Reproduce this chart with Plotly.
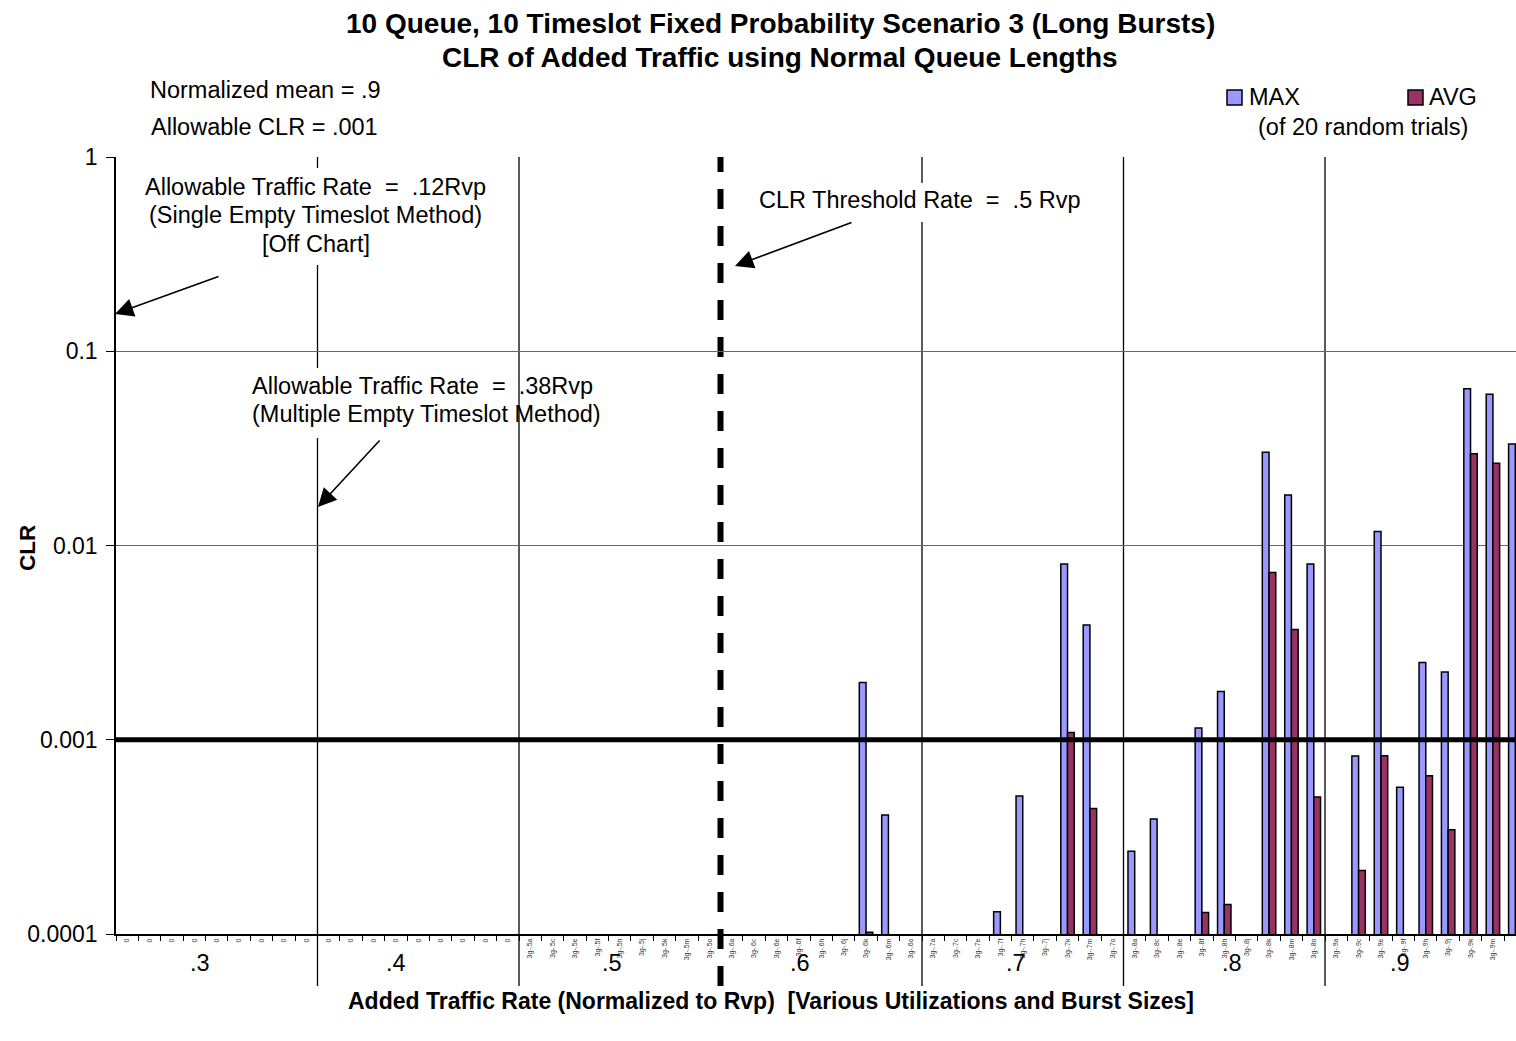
import plotly.graph_objects as go

# ---------------------------------------------------------------- data
group_labels = [".3", ".4", ".5", ".6", ".7", ".8", ".9"]

category_labels = [
    "0", "0", "0", "0", "0", "0", "0", "0", "0",
    "0", "0", "0", "0", "0", "0", "0", "0", "0",
    "3g-.5a", "3g-.5c", "3g-.5e", "3g-.5f", "3g-.5h", "3g-.5j", "3g-.5k", "3g-.5m", "3g-.5o",
    "3g-.6a", "3g-.6c", "3g-.6e", "3g-.6f", "3g-.6h", "3g-.6j", "3g-.6k", "3g-.6m", "3g-.6o",
    "3g-.7a", "3g-.7c", "3g-.7e", "3g-.7f", "3g-.7h", "3g-.7j", "3g-.7k", "3g-.7m", "3g-.7o",
    "3g-.8a", "3g-.8c", "3g-.8e", "3g-.8f", "3g-.8h", "3g-.8j", "3g-.8k", "3g-.8m", "3g-.8o",
    "3g-.9a", "3g-.9c", "3g-.9e", "3g-.9f", "3g-.9h", "3g-.9j", "3g-.9k", "3g-.9m", "3g-.9o",
]

N = None
max_clr = [
    N, N, N, N, N, N, N, N, N,
    N, N, N, N, N, N, N, N, N,
    N, N, N, N, N, N, N, N, N,
    N, N, N, N, N, N, 0.00197, 0.00041, N,
    N, N, N, 0.00013, 0.000513, N, 0.00803, 0.0039, N,
    0.000267, 0.000391, N, 0.00115, 0.00177, N, 0.0302, 0.0182, 0.00803,
    N, 0.000824, 0.0118, 0.000569, 0.0025, 0.00223, 0.0642, 0.0601, 0.0333,
]
avg_clr = [
    N, N, N, N, N, N, N, N, N,
    N, N, N, N, N, N, N, N, N,
    N, N, N, N, N, N, N, N, N,
    N, N, N, N, N, N, 0.000102, N, N,
    N, N, N, N, N, N, 0.00109, 0.000443, N,
    N, N, N, 0.000129, 0.000142, N, 0.00726, 0.00369, 0.000507,
    N, 0.000212, 0.000828, N, 0.000652, 0.000344, 0.0297, 0.0265, N,
]

allowable_clr = 0.001
group_size = 9
threshold_group = 3          # the .5 Rvp threshold sits before the .6 group

# ---------------------------------------------------------------- layout helpers
W, H = 1516, 1041
L, R, T, B = 116, 0, 157, 107
FONT = "Liberation Sans, Arial, sans-serif"


def px(x):
    return (x - L) / (W - L - R)


def py(y):
    return (H - B - y) / (H - T - B)


x = list(range(len(category_labels)))
cat_w = 22.389                       # pixel width of one category
x_end = -0.5 + (W - L - R) / cat_w

fig = go.Figure()
fig.add_trace(go.Bar(
    x=x, y=max_clr, name="MAX",
    marker=dict(color="#9999FF", line=dict(color="black", width=1.5)),
))
fig.add_trace(go.Bar(
    x=x, y=avg_clr, name="AVG",
    marker=dict(color="#993366", line=dict(color="black", width=1.5)),
))
# allowable CLR reference line
fig.add_trace(go.Scatter(
    x=[-1, len(x)], y=[allowable_clr, allowable_clr], mode="lines",
    line=dict(color="black", width=5), hoverinfo="skip",
))

shapes = []
# group separators (extend down through the category labels)
for g in range(1, len(group_labels)):
    xb = g * group_size - 0.5
    dashed = g == threshold_group
    shapes.append(dict(
        type="line", xref="x", yref="paper", x0=xb, x1=xb,
        y0=py(986), y1=1, layer="below",
        line=dict(color="black", width=6 if dashed else 1.3,
                  dash="20px,17px" if dashed else "solid"),
    ))

# opaque text boxes
for (x0, y0, x1, y1) in [(140, 168, 490, 265), (245, 368, 505, 438), (752, 183, 1088, 222)]:
    shapes.append(dict(
        type="rect", xref="paper", yref="paper",
        x0=px(x0), x1=px(x1), y0=py(y1), y1=py(y0),
        fillcolor="white", line=dict(width=0), layer="above",
    ))

# legend swatches
for (x0, col) in [(1227, "#9999FF"), (1408, "#993366")]:
    shapes.append(dict(
        type="rect", xref="paper", yref="paper",
        x0=px(x0), x1=px(x0 + 15), y0=py(105), y1=py(90),
        fillcolor=col, line=dict(color="black", width=1.5), layer="above",
    ))

ann = []


def text(x, y, s, size=23, bold=False, xanchor="center", angle=0):
    ann.append(dict(
        xref="paper", yref="paper", x=px(x), y=py(y), text=f"<b>{s}</b>" if bold else s,
        showarrow=False, xanchor=xanchor, yanchor="middle", textangle=angle,
        font=dict(family=FONT, size=size, color="black"),
    ))


def arrow(hx, hy, tx, ty):
    ann.append(dict(
        xref="paper", yref="paper", x=px(hx), y=py(hy), ax=tx - hx, ay=ty - hy,
        axref="pixel", ayref="pixel", text="", showarrow=True,
        arrowhead=2, arrowsize=2.3, arrowwidth=1.6, arrowcolor="black",
    ))


text(780, 23, "10 Queue, 10 Timeslot Fixed Probability Scenario 3 (Long Bursts)", 28, True)
text(780, 57, "CLR of Added Traffic using Normal Queue Lengths", 28, True)
text(265, 90, "Normalized mean = .9", 23.5)
text(264, 127, "Allowable CLR = .001", 23.5)

text(315, 187, "Allowable Traffic Rate  =  .12Rvp", 23.5)
text(315, 215, "(Single Empty Timeslot Method)", 23.5)
text(316, 244, "[Off Chart]", 23.5)
arrow(115, 314, 220, 276)

text(250, 386, "Allowable Traffic Rate  =  .38Rvp", 23.5, xanchor="left")
text(250, 414, "(Multiple Empty Timeslot Method)", 23.5, xanchor="left")
arrow(318, 507, 381, 439)

text(920, 200, "CLR Threshold Rate  =  .5 Rvp", 23.5)
arrow(735, 266, 853, 222)

text(1247, 97, "MAX", 23.5, xanchor="left")
text(1427, 97, "AVG", 23.5, xanchor="left")
text(1363, 127, "(of 20 random trials)", 23.5)

text(27, 548, "CLR", 22.5, True, angle=-90)
text(771, 1001, "Added Traffic Rate (Normalized to Rvp)  [Various Utilizations and Burst Sizes]", 23, True)

for lab, gx in zip(group_labels, [200, 396, 612, 800, 1016, 1232, 1400]):
    text(gx, 963, lab, 23.5)

fig.update_layout(
    width=W, height=H,
    margin=dict(l=L, r=R, t=T, b=B, autoexpand=False),
    paper_bgcolor="white", plot_bgcolor="white",
    barmode="group", bargap=0.4, bargroupgap=0,
    showlegend=False,
    font=dict(family=FONT, color="black"),
    shapes=shapes, annotations=ann,
    xaxis=dict(
        range=[-0.5, x_end], tickmode="array", tickvals=x, ticktext=category_labels,
        tickangle=-90, tickfont=dict(family=FONT, size=7, color="#333333"),
        ticks="", showgrid=False, zeroline=False,
        showline=True, linecolor="black", linewidth=1.5,
        minor=dict(tick0=-0.5, dtick=1, ticks="outside", ticklen=5,
                   tickwidth=1, tickcolor="black", showgrid=False),
        automargin=False, fixedrange=True,
    ),
    yaxis=dict(
        type="log", range=[-4, 0],
        tickmode="array", tickvals=[0.0001, 0.001, 0.01, 0.1, 1],
        ticktext=["0.0001", "0.001", "0.01", "0.1", "1"],
        tickfont=dict(family=FONT, size=23, color="black"),
        ticks="outside", ticklen=8, tickcolor="black", tickwidth=1,
        ticklabelstandoff=4,
        showgrid=True, gridcolor="#666666", gridwidth=1,
        showline=True, linecolor="black", linewidth=1.5,
        zeroline=False, automargin=False, fixedrange=True,
    ),
)

fig.write_html("out.html")
